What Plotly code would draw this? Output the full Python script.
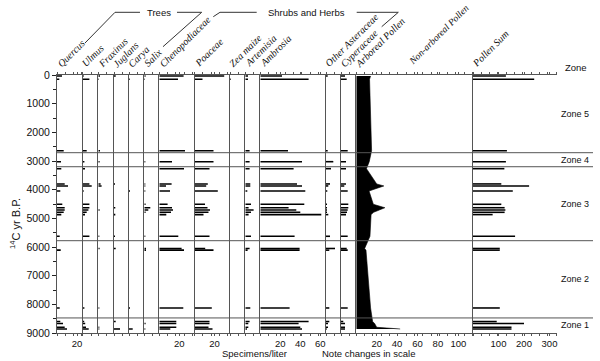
import plotly.graph_objects as go

# ---------------- data ----------------
ages = [35, 150, 2640, 3024, 3268, 3800, 3870, 4046, 4510, 4630, 4710, 4790, 4870,
        5626, 6052, 6110, 8127, 8600, 8670, 8800, 8860]

quercus = [5, 2.3, 6.7, 4, 4.3, 7.7, 11, 3.3, 5.3, 7.7, 7.7, 6.7, 4.3, 2.7, 0, 3.7, 2.7, 3.3, 6, 7.7, 10]
ulmus = [1, 6.7, 4, 1.7, 2.3, 6.7, 9, 1, 6.7, 6.7, 5.7, 4, 2.3, 6.7, 0, 0, 1.7, 1.5, 2.5, 3.3, 6]
fraxinus = [1.7, 0.7, 1.7, 1.3, 0, 2.3, 3.3, 0, 0, 0, 1.3, 0, 0, 1, 1.3, 0, 1, 0, 0, 1, 1]
juglans = [1.7, 0, 0, 0, 0, 1, 0, 0, 0, 1.3, 0, 0, 1.3, 1, 1.7, 0, 0, 1.7, 0, 0, 6]
carya = [0, 0.7, 0, 0, 0, 0, 0, 1, 0, 0, 0, 0, 0, 0, 0, 0, 1, 0, 0, 0, 3.7]
salix = [1.3, 0.7, 0, 1, 0, 1, 1, 1, 1.3, 6, 4, 1.3, 0, 1, 1.7, 1.7, 0, 0, 1.3, 0, 1]
chenopodiaceae = [24.3, 18.7, 25.7, 12.7, 24.7, 12.3, 6.7, 10.7, 8.3, 12.7, 13.7, 11.7, 7, 19, 22.3, 24.7, 24, 17, 17, 17, 11]
poaceae = [29.7, 8, 19, 19, 15, 13.3, 11.7, 23.3, 10.5, 13, 15.5, 14, 9, 15, 10.7, 19, 17.3, 15, 15, 14, 18]
zea = [0, 0.7, 0, 0, 0, 0, 0, 0, 0, 0, 0, 0, 0, 0, 0, 0, 0, 0, 0, 0, 0]
artemisia = [2.7, 2.7, 4.3, 4.3, 4.3, 5, 5, 2, 5.7, 3.3, 8.3, 5.7, 3.3, 5.7, 4.3, 2.3, 5, 4.3, 3, 3, 1.7]
ambrosia = [21.7, 48.3, 27.7, 41.7, 33.3, 36.7, 41.7, 45, 44, 28.3, 36, 40, 61, 34.3, 39.3, 39.3, 29.3, 48.3, 38.3, 40, 41.7]
other_asteraceae = [1.7, 0, 1.7, 7.3, 5, 4, 2.3, 1.3, 1, 1, 1, 1, 2.3, 4, 9, 3.3, 3.3, 3.3, 2, 2, 0.7]
cyperaceae = [4, 5.7, 6.7, 5, 5, 5, 3.3, 6.7, 7.3, 7.3, 6.7, 6, 5, 6.7, 5.7, 6.7, 6.7, 2.3, 4, 4, 4]
arboreal_pct = [14, 13, 15, 12.7, 10, 20, 27, 12.5, 16.7, 28, 22.5, 17, 14.5, 13.4, 8.2, 9.5, 14, 16, 18, 20, 43]
pollen_sum = [129, 240, 133, 129, 123, 111, 220, 156, 111, 124, 127, 124, 77, 165, 105, 105, 105, 93, 200, 151, 151]

zone_bounds = [2710, 3200, 5780, 8475]
zone_names = ["Zone 5", "Zone 4", "Zone 3", "Zone 2", "Zone 1"]
y_ticks = [0, 1000, 2000, 3000, 4000, 5000, 6000, 7000, 8000, 9000]
age_max = 9000

# ---------------- layout geometry (pixels) ----------------
W, H = 600, 361
ML, MR, MT, MB = 57, 7, 75, 28
PW = W - ML - MR
PH = H - MT - MB


def fx(x):
    return (x - ML) / PW


def fy(y):
    return (H - MB - y) / PH


SERIF = "Liberation Serif"
SANS = "Liberation Sans"
LINE = "#555"

panels = [
    ("Quercus", quercus, 1.0, [20], "bar"),
    ("Ulmus", ulmus, 1.0, [], "bar"),
    ("Fraxinus", fraxinus, 1.0, [], "bar"),
    ("Juglans", juglans, 1.0, [], "bar"),
    ("Carya", carya, 1.0, [], "bar"),
    ("Salix", salix, 1.0, [], "bar"),
    ("Chenopodiaceae", chenopodiaceae, 1.0, [20], "bar"),
    ("Poaceae", poaceae, 1.0, [20], "bar"),
    ("Zea maize", zea, 1.0, [], "bar"),
    ("Artemisia", artemisia, 1.0, [], "bar"),
    ("Ambrosia", ambrosia, 1.0, [20, 40, 60], "bar"),
    ("Other Asteraceae", other_asteraceae, 1.0, [], "bar"),
    ("Cyperaceae", cyperaceae, 1.0, [], "bar"),
    ("Arboreal Pollen", arboreal_pct, 1.02, [20, 40, 60, 80, 100], "area"),
    ("Pollen Sum", pollen_sum, 0.255, [100, 200, 300], "bar"),
    ("Zone", None, 1.0, [], "zone"),
]
edges = [57, 82.7, 98.3, 114, 129, 144.3, 159.3, 194.5, 230, 245.3, 260.3,
         326, 341, 356.3, 473, 557, 593]

fig = go.Figure()
layout = dict(
    width=W, height=H, template="none",
    margin=dict(l=ML, r=MR, t=MT, b=MB, autoexpand=False),
    paper_bgcolor="white", plot_bgcolor="rgba(0,0,0,0)",
    showlegend=False, font=dict(family=SANS, size=10, color="#111"),
)

for i, (name, vals, scale, labs, kind) in enumerate(panels, start=1):
    x0, x1 = edges[i - 1], edges[i]
    xa = "x" if i == 1 else f"x{i}"
    ya = "y" if i == 1 else f"y{i}"
    rng = (x1 - x0) / scale
    if kind == "bar":
        fig.add_trace(go.Bar(x=vals, y=ages, orientation="h", width=55,
                             marker=dict(color="black", line=dict(width=0)),
                             xaxis=xa, yaxis=ya, hoverinfo="skip"))
    elif kind == "area":
        fig.add_trace(go.Scatter(x=vals, y=ages, mode="lines", fill="tozerox",
                                 fillcolor="black", line=dict(color="black", width=0.6),
                                 xaxis=xa, yaxis=ya, hoverinfo="skip"))
    xaxis = dict(
        domain=[fx(x0), fx(x1)], range=[0, rng], anchor=ya,
        showline=True, linecolor=LINE, linewidth=1, mirror="ticks",
        showgrid=False, zeroline=False, automargin=False,
        ticks="outside" if kind != "zone" else "", ticklen=2, tickcolor=LINE,
        tickfont=dict(family=SANS, size=9.5, color="#111"),
        fixedrange=True,
    )
    if labs:
        xaxis.update(tickvals=labs, ticktext=[str(v) for v in labs])
    else:
        xaxis.update(showticklabels=False, tickvals=[])
    if kind != "zone":
        xaxis["minor"] = dict(ticks="outside", ticklen=2, tickcolor=LINE,
                              dtick=8.3 / scale, tick0=0)
    yaxis = dict(
        domain=[0, 1], range=[age_max, 0], anchor=xa,
        showline=True, linecolor=LINE, linewidth=1,
        showgrid=False, zeroline=False, automargin=False, fixedrange=True,
        mirror=(kind == "zone"),
    )
    if i == 1:
        yaxis.update(ticks="outside", ticklen=4, tickcolor="#222",
                     tickvals=y_ticks, ticktext=[str(v) for v in y_ticks],
                     tickfont=dict(family=SANS, size=10.5, color="#111"),
                     minor=dict(ticks="outside", ticklen=3, dtick=500, tickcolor="#222"))
    else:
        yaxis.update(ticks="", showticklabels=False)
    layout["xaxis" if i == 1 else f"xaxis{i}"] = xaxis
    layout["yaxis" if i == 1 else f"yaxis{i}"] = yaxis

shapes = []
for b in zone_bounds:
    shapes.append(dict(type="line", xref="paper", yref="y", x0=0, x1=1, y0=b, y1=b,
                       line=dict(color=LINE, width=1)))


def path(pts):
    return "M " + " L ".join(f"{fx(x):.5f},{fy(y):.5f}" for x, y in pts)


bracket_pts = [
    [(85, 43), (115, 12.3), (140, 12.3)],
    [(177, 12.3), (201.7, 12.3), (163, 46.7)],
    [(213.3, 16.7), (220, 12.3), (256.7, 12.3)],
    [(356.7, 12.3), (398.3, 12.3), (381.7, 26.7)],
]
for pts in bracket_pts:
    shapes.append(dict(type="path", xref="paper", yref="paper", path=path(pts),
                       line=dict(color="#333", width=1)))
layout["shapes"] = shapes

ann = []


def text_at(txt, x, y, size=9.5, angle=0, yref="paper"):
    ann.append(dict(text=txt, xref="paper", yref=yref, x=fx(x),
                    y=fy(y) if yref == "paper" else y,
                    xanchor="center", yanchor="middle", textangle=angle,
                    showarrow=False, font=dict(family=SANS, size=size, color="#111")))


label_starts = [(59, 67), (84, 67), (100, 67), (115, 67), (130, 67), (146, 67),
                (161, 67), (196, 67), (231, 67), (247, 67), (262, 67), (327, 66),
                (342, 67), (357, 67), (474, 67), (411, 65)]
label_sizes = [10] * 15 + [9.5]
header_names = [p[0] for p in panels[:15]] + ["Non-arboreal Pollen"]
for name, (xs, ys), sz in zip(header_names, label_starts, label_sizes):
    ann.append(dict(text=f"<i>{name}</i>", xref="paper", yref="paper",
                    x=fx(xs - 4), y=fy(ys + 2), xanchor="left", yanchor="bottom",
                    textangle=-45, showarrow=False, borderpad=0, borderwidth=0,
                    font=dict(family=SERIF, size=sz, color="#111")))

text_at("Zone", 576, 68)
text_at("Trees", 158.5, 12)
text_at("Shrubs and Herbs", 306.5, 12)
text_at("Specimens/liter", 254, 353)
text_at("Note changes in scale", 368, 353)
text_at("<sup>14</sup>C yr B.P.", 15, 224, size=11, angle=-90)

zb = [0] + zone_bounds + [age_max]
for k, zn in enumerate(zone_names):
    text_at(zn, 575, (zb[k] + zb[k + 1]) / 2, size=9, yref="y")
layout["annotations"] = ann

fig.update_layout(**layout)
fig.write_html("out.html", config={"displayModeBar": False, "staticPlot": True},
               post_script="document.body.style.margin='0';")
